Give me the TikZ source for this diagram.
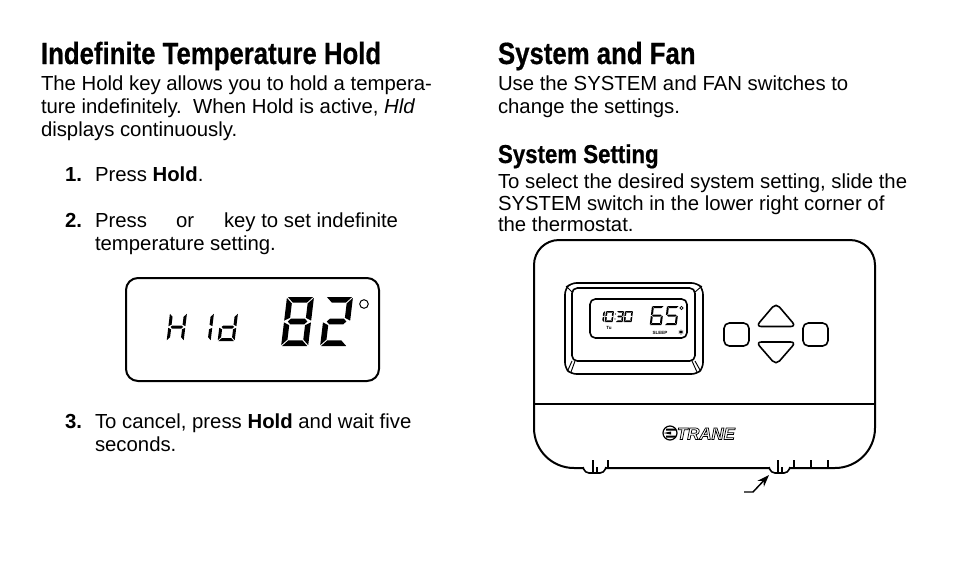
\documentclass[tikz,border=0pt]{standalone}
\usepackage{fontspec}
\setmainfont{Liberation Sans}
\newfontfamily\headfont[FakeStretch=0.84,FakeBold=0.6]{Liberation Sans}
\newfontfamily\subheadfont[FakeStretch=0.86,FakeBold=0.6]{Liberation Sans}
\usepackage{tikz}
\usetikzlibrary{arrows.meta}
\usetikzlibrary{calc}
\newcommand{\sizebody}{\fontsize{15.25pt}{17pt}\selectfont}
\newcommand{\hollow}[1]{\special{pdf:code 2 Tr 0.55 w 1 1 1 rg 0 0 0 RG}#1\special{pdf:code 0 Tr 0 0 0 rg}}
\tikzset{
    common/.style={anchor=base west, inner sep=0pt, outer sep=0pt, text=black},
    body/.style={common, font=\sizebody},
    head/.style={common, font=\headfont\bfseries\fontsize{23pt}{26pt}\selectfont},
    subhead/.style={common, font=\subheadfont\bfseries\fontsize{19.4pt}{22pt}\selectfont},
    tiny/.style={inner sep=0pt, font=\bfseries\fontsize{3.4pt}{4pt}\selectfont},
    outline/.style={draw=black, line width=1.5pt, fill=white},
    thinline/.style={draw=black, line width=1pt},
    keycap/.style={outline, line width=1.2pt, rounded corners=4pt},
    pointer/.style={-{Stealth[length=9pt, width=6.5pt]}, line width=1.1pt}
}
\begin{document}
\begin{tikzpicture}[x=0.75pt, y=-0.75pt]
      \useasboundingbox (0,0) rectangle (954,569);

      % one digit: top left corner, width, height, bar, gap, bars
      \newcommand\lcddigit[6]{
        \begin{scope}[shift={#1}, xslant=0.12, xscale=#2, yscale=#3]
          \pgfmathsetmacro\tx{#4/#2}
          \pgfmathsetmacro\ty{#4/#3}
          \pgfmathsetmacro\gx{#5/#2}
          \pgfmathsetmacro\gy{#5/#3}
          \foreach \bar in {#6} {
            \fill \csname lcd\bar\endcsname;
          }
        \end{scope}
      }
      \newcommand\lcda{(\gx,0) -- ({1-\gx},0) -- ({1-\gx-\tx},\ty) -- ({\gx+\tx},\ty) -- cycle}
      \newcommand\lcdd{(\gx,1) -- ({1-\gx},1) -- ({1-\gx-\tx},{1-\ty}) -- ({\gx+\tx},{1-\ty}) -- cycle}
      \newcommand\lcdg{({\gx+\tx/2},0.5) -- ({\gx+\tx},{0.5-\ty/2}) -- ({1-\gx-\tx},{0.5-\ty/2}) -- ({1-\gx-\tx/2},0.5) -- ({1-\gx-\tx},{0.5+\ty/2}) -- ({\gx+\tx},{0.5+\ty/2}) -- cycle}
      \newcommand\lcdf{(0,\gy) -- (\tx,{\gy+\ty}) -- (\tx,{0.5-\gy-\ty/2}) -- (0,{0.5-\gy}) -- cycle}
      \newcommand\lcde{(0,{0.5+\gy}) -- (\tx,{0.5+\gy+\ty/2}) -- (\tx,{1-\gy-\ty}) -- (0,{1-\gy}) -- cycle}
      \newcommand\lcdb{(1,\gy) -- ({1-\tx},{\gy+\ty}) -- ({1-\tx},{0.5-\gy-\ty/2}) -- (1,{0.5-\gy}) -- cycle}
      \newcommand\lcdc{(1,{0.5+\gy}) -- ({1-\tx},{0.5+\gy+\ty/2}) -- ({1-\tx},{1-\gy-\ty}) -- (1,{1-\gy}) -- cycle}

      \path
          (41,64) node[head] (title-hold) {Indefinite Temperature Hold}
          (41,90) node[body] (hold-a) {The Hold key allows you to hold a tempera-}
          (41,113) node[body] (hold-b) {ture indefinitely.\ \ When Hold is active, \textit{Hld}}
          (41,136) node[body] (hold-c) {displays continuously.}
          (65,181) node[body] (num-1) {\textbf{1.}}
          (95,181) node[body] (step-1) {Press \textbf{Hold}.}
          (65,227) node[body] (num-2) {\textbf{2.}}
          (95,227) node[body] (step-2a) {Press}
          (176,227) node[body] (step-2b) {or}
          (224,227) node[body] (step-2c) {key to set indefinite}
          (95,250) node[body] (step-2d) {temperature setting.}
          (65,428) node[body] (num-3) {\textbf{3.}}
          (95,428) node[body] (step-3a) {To cancel, press \textbf{Hold} and wait five}
          (95,451) node[body] (step-3b) {seconds.};

      \path
          (498,64) node[head] (title-system) {System and Fan}
          (498,90) node[body] (fan-a) {Use the SYSTEM and FAN switches to}
          (498,113) node[body] (fan-b) {change the settings.}
          (498,163) node[subhead] (title-setting) {System Setting}
          (498,188) node[body] (set-a) {To select the desired system setting, slide the}
          (498,210) node[body] (set-b) {SYSTEM switch in the lower right corner of}
          (498,231) node[body] (set-c) {the thermostat.};

      \draw[outline] (126,278) [rounded corners=9pt] -- (379,278) -- (379,381) -- (126,381) -- cycle;
      \lcddigit{(170,313)}{17}{28}{3}{0.8}{b,c,e,f,g}
      \lcddigit{(197,313)}{17}{28}{3}{0.8}{c,b}
      \lcddigit{(221,313)}{17}{28}{3}{0.8}{b,c,d,e,g}
      \lcddigit{(287,297)}{27}{49}{5.6}{0.9}{a,b,c,d,e,f,g}
      \lcddigit{(326,297)}{27}{49}{5.6}{0.9}{a,b,d,e,g}
      \draw[line width=0.75pt] (364,304) circle (4.3);

      \draw[outline]
          (559,240) -- (850,240) to[out=0, in=90] (875,265) -- (875,428) to[out=-90, in=0] (835,468)
          -- (574,468) to[out=180, in=-90] (534,428) -- (534,265) to[out=90, in=180] (559,240) -- cycle;
      \draw[thinline] (534,404) -- (875,404);

      \draw[keycap] (571,283) -- (697,283) -- (703,289) -- (703,368) -- (697,374) -- (571,374) -- (565,368) -- (565,289) -- cycle;
      \draw[keycap] (572,288) -- (695,288) -- (695,361) -- (572,361) -- cycle;
      \draw[keycap] (590,299) -- (687,299) -- (687,338) -- (590,338) -- cycle;
      \draw[line width=0.7pt]
          (566,286) -- (572,292) (702,286) -- (695,292)
          (568,370) -- (572,361) (571,372) -- (575,361)
          (700,370) -- (695,361) (697,372) -- (692,361);

      \lcddigit{(602,311)}{3}{11}{1.6}{0.2}{b,c}
      \lcddigit{(606,311)}{8}{11}{1.6}{0.2}{a,b,c,d,e,f}
      \lcddigit{(617,311)}{7}{11}{1.6}{0.2}{a,b,c,d,g}
      \lcddigit{(625,311)}{8}{11}{1.6}{0.2}{a,b,c,d,e,f}
      \fill (615.5,314) circle (0.7) (615,319) circle (0.7);
      \lcddigit{(652,306)}{12}{19}{2}{0.3}{a,c,d,e,f,g}
      \lcddigit{(667,306)}{12}{19}{2}{0.3}{a,c,d,f,g}
      \draw[line width=0.5pt] (681.5,308) circle (1.6);
      \path
          (609,327.5) node[tiny] (day) {Tu}
          (660,332.5) node[tiny] (mode) {SLEEP};
      \draw[line width=0.5pt]
          (681,329.5) -- (681,334.5) (678.8,330.8) -- (683.2,333.2) (678.8,333.2) -- (683.2,330.8);

      \draw[keycap] (724,323) -- (749,323) -- (749,346) -- (724,346) -- cycle;
      \draw[keycap] (803,323) -- (828,323) -- (828,346) -- (803,346) -- cycle;
      \draw[keycap] (776,303) -- (796,326.5) -- (756,326.5) -- cycle;
      \draw[keycap] (756,342) -- (796,342) -- (776,365) -- cycle;

      \draw[line width=0.9pt] (670,433) circle (7);
      \fill (663.5,433) -- (671,431.5) -- (671,434.5) -- cycle (666,428.5) -- (676,428.5) -- (676,430.5) -- (666,430.5) -- cycle (666,435.5) -- (676,435.5) -- (676,437.5) -- (666,437.5) -- cycle;
      \path (677,439.5) node[common, font=\bfseries\itshape\fontsize{12.6pt}{14pt}\selectfont] (logo) {\hollow{TRANE}};

      \draw[outline, line width=1.2pt, rounded corners=3pt] (583,467) -- (585,473) -- (604,473) -- (606,467);
      \draw[outline, line width=1.2pt, rounded corners=3pt] (769,467) -- (771,473) -- (788,473) -- (790,467);
      \draw[thinline]
          (593,460) -- (593,473) (597,467) -- (597,473) (608,460) -- (608,467)
          (778,460) -- (778,473) (782,467) -- (782,473) (794,460) -- (794,467)
          (811,460) -- (811,467) (828,460) -- (828,467);

      \coordinate (pointer-start) at (744,492);
      \coordinate (pointer-bend) at (753,492);
      \coordinate (pointer-end) at (769,475);
      \draw[pointer] (pointer-start) -- (pointer-bend) -- (pointer-end);
    \end{tikzpicture}
\end{document}
